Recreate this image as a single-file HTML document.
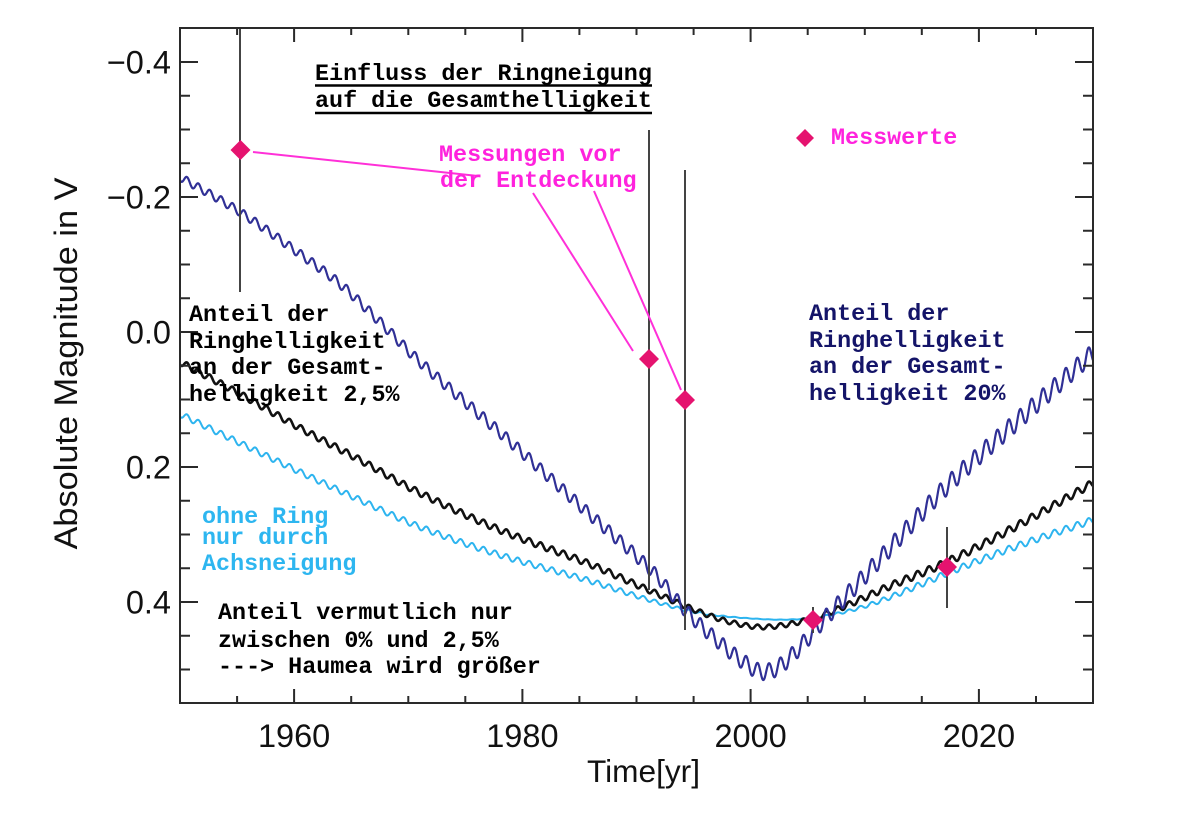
<!DOCTYPE html>
<html>
<head>
<meta charset="utf-8">
<style>
html,body{margin:0;padding:0;background:#fff;}
svg{display:block;}
.mono{font-family:"Liberation Mono","DejaVu Sans Mono",monospace;font-weight:bold;font-size:23.4px;}
.sans{font-family:"Liberation Sans",Arial,sans-serif;}
</style>
</head>
<body>
<svg width="1200" height="818" viewBox="0 0 1200 818" xmlns="http://www.w3.org/2000/svg">
<defs>
<clipPath id="plot"><rect x="180" y="28" width="913" height="675"/></clipPath>
</defs>
<rect x="0" y="0" width="1200" height="818" fill="#fff"/>

<!-- curves -->
<g clip-path="url(#plot)" fill="none" stroke-linejoin="round" stroke-linecap="round">
<path id="cyan" stroke="#2db4ef" stroke-width="2" d="M180 414L240 443L300 472L360 500L420 527L500 555L587 580L653 601L700 613L760 619L800 619L840 613L880 601L960 568L1020 545L1093 520"/>
<path id="black" stroke="#111" stroke-width="2.6" d="M180 362L240 394L300 428L360 460L420 493L500 530L587 563L653 592L700 612L730 622L760 627L790 624L820 616L850 604L890 586L947 562L1013 528L1093 483"/>
<path id="blue" stroke="#303096" stroke-width="2.2" d="M180 177L240 212L300 254L340 284L380 322L420 362L505 437L587 512L653 572L687 612L720 643L745 663L762 672L780 666L800 647L820 624L850 592L880 559L947 486L1013 425L1093 353"/>
</g>

<!-- error bars -->
<g stroke="#444" stroke-width="2">
<line x1="240" y1="28" x2="240" y2="292"/>
<line x1="649" y1="130" x2="649" y2="590"/>
<line x1="685" y1="170" x2="685" y2="630"/>
<line x1="813" y1="607" x2="813" y2="633"/>
<line x1="947" y1="527" x2="947" y2="608"/>
</g>

<!-- magenta pointer lines -->
<g stroke="#ff30d8" stroke-width="2">
<line x1="253" y1="152" x2="478" y2="176"/>
<line x1="533" y1="193" x2="633" y2="351"/>
<line x1="594" y1="191" x2="681" y2="390"/>
</g>

<!-- diamonds -->
<g fill="#e5136f">
<polygon points="240.5,140 250.5,150 240.5,160 230.5,150"/>
<polygon points="649,349 659,359 649,369 639,359"/>
<polygon points="685,390 695,400 685,410 675,400"/>
<polygon points="813,610 823,620 813,630 803,620"/>
<polygon points="947,557 957,567 947,577 937,567"/>
<polygon points="805,129 814,138 805,147 796,138"/>
</g>

<!-- frame and ticks -->
<g fill="none" stroke="#2a2a2a" stroke-width="2">
<rect x="180" y="28" width="913" height="675"/>
<path d="M294.1 703v-14M522.4 703v-14M750.6 703v-14M978.9 703v-14
M237.1 703v-7M351.2 703v-7M408.3 703v-7M465.3 703v-7M579.4 703v-7M636.5 703v-7M693.6 703v-7M807.7 703v-7M864.8 703v-7M921.8 703v-7M1036 703v-7
M294.1 28v14M522.4 28v14M750.6 28v14M978.9 28v14
M237.1 28v7M351.2 28v7M408.3 28v7M465.3 28v7M579.4 28v7M636.5 28v7M693.6 28v7M807.7 28v7M864.8 28v7M921.8 28v7M1036 28v7
M180 62h18M180 197h18M180 332h18M180 467h18M180 602h18
M180 95.75h10M180 129.5h10M180 163.25h10M180 230.75h10M180 264.5h10M180 298.25h10M180 365.75h10M180 399.5h10M180 433.25h10M180 500.75h10M180 534.5h10M180 568.25h10M180 635.75h10M180 669.5h10
M1093 62h-18M1093 197h-18M1093 332h-18M1093 467h-18M1093 602h-18
M1093 95.75h-10M1093 129.5h-10M1093 163.25h-10M1093 230.75h-10M1093 264.5h-10M1093 298.25h-10M1093 365.75h-10M1093 399.5h-10M1093 433.25h-10M1093 500.75h-10M1093 534.5h-10M1093 568.25h-10M1093 635.75h-10M1093 669.5h-10"/>
</g>

<!-- tick labels -->
<g class="sans" font-size="32.5" fill="#111" text-anchor="end">
<text x="171" y="73.6">−0.4</text>
<text x="171" y="208.6">−0.2</text>
<text x="171" y="343.6">0.0</text>
<text x="171" y="478.6">0.2</text>
<text x="171" y="613.6">0.4</text>
</g>
<g class="sans" font-size="32.5" fill="#111" text-anchor="middle">
<text x="294.1" y="747">1960</text>
<text x="522.4" y="747">1980</text>
<text x="750.6" y="747">2000</text>
<text x="978.9" y="747">2020</text>
</g>
<text class="sans" x="587" y="782" font-size="31.5" fill="#111" textLength="113" lengthAdjust="spacingAndGlyphs">Time[yr]</text>
<text class="sans" transform="translate(77,363.5) rotate(-90)" x="0" y="0" font-size="32.5" fill="#111" text-anchor="middle" textLength="372" lengthAdjust="spacingAndGlyphs">Absolute Magnitude in V</text>

<!-- title -->
<g class="mono" fill="#000">
<text x="315" y="80">Einfluss der Ringneigung</text>
<text x="315" y="107">auf die Gesamthelligkeit</text>
</g>
<g stroke="#000" stroke-width="2.5">
<line x1="315" y1="85.5" x2="652" y2="85.5"/>
<line x1="315" y1="113" x2="652" y2="113"/>
</g>

<!-- magenta annotations -->
<g class="mono" fill="#ff22dd">
<text x="439" y="161">Messungen vor</text>
<text x="440" y="187">der Entdeckung</text>
<text x="831" y="144">Messwerte</text>
</g>

<!-- blue annotation -->
<g class="mono" fill="#141468">
<text x="809" y="320">Anteil der</text>
<text x="809" y="347">Ringhelligkeit</text>
<text x="809" y="373">an der Gesamt-</text>
<text x="809" y="400">helligkeit 20%</text>
</g>

<!-- black left annotation -->
<g class="mono" fill="#000">
<text x="189" y="321">Anteil der</text>
<text x="189" y="348">Ringhelligkeit</text>
<text x="189" y="374">an der Gesamt-</text>
<text x="189" y="401">helligkeit 2,5%</text>
</g>

<!-- cyan annotation -->
<g class="mono" fill="#2db6f0">
<text x="202" y="523">ohne Ring</text>
<text x="202" y="544">nur durch</text>
<text x="202" y="570">Achsneigung</text>
</g>

<!-- bottom annotation -->
<g class="mono" fill="#000">
<text x="218" y="619">Anteil vermutlich nur</text>
<text x="218" y="647">zwischen 0% und 2,5%</text>
<text x="218" y="673">---&gt; Haumea wird größer</text>
</g>
</svg>

<script>
(function(){
  var PX = 11.4125;
  function H(p, x){
    var n = p.length;
    if (x <= p[0][0]) return p[0][1];
    if (x >= p[n-1][0]) return p[n-1][1];
    var i = 0;
    while (x > p[i+1][0]) i++;
    var p0 = p[Math.max(i-1,0)], p1 = p[i], p2 = p[i+1], p3 = p[Math.min(i+2,n-1)];
    var h = p2[0]-p1[0];
    var m1 = (p2[1]-p0[1])/(p2[0]-p0[0]);
    var m2 = (p3[1]-p1[1])/(p3[0]-p1[0]);
    var t = (x-p1[0])/h, t2 = t*t, t3 = t2*t;
    return (2*t3-3*t2+1)*p1[1] + (t3-2*t2+t)*h*m1 + (-2*t3+3*t2)*p2[1] + (t3-t2)*h*m2;
  }
  function wave(id, base, amp){
    var d = '';
    for (var k = 0; ; k++){
      var x = 180 + k*0.5;
      if (x > 1093.5) break;
      var t = (x-180)/PX;
      var y = H(base, x) + H(amp, x)*Math.cos(2*Math.PI*(t-5.11));
      d += (k === 0 ? 'M' : 'L') + x.toFixed(1) + ' ' + y.toFixed(2);
    }
    var el = document.getElementById(id);
    if (el) el.setAttribute('d', d);
  }
  var blue = [[180,177],[240,212],[300,254],[340,284],[380,322],[420,362],[505,437],[587,512],[653,572],[687,612],[720,643],[745,663],[762,672],[780,666],[800,647],[820,624],[850,592],[880,559],[947,486],[1013,425],[1093,353]];
  var black = [[180,362],[240,394],[300,428],[360,460],[420,493],[500,530],[587,563],[653,592],[700,612],[730,622],[760,627],[790,624],[820,616],[850,604],[890,586],[947,562],[1013,528],[1093,483]];
  var cyan = [[180,414],[240,443],[300,472],[360,500],[420,527],[500,555],[587,580],[653,601],[700,613],[760,619],[800,619],[840,613],[880,601],[960,568],[1020,545],[1093,520]];
  var blueAmp = [[180,4],[300,4.5],[450,5.5],[650,6.5],[760,8],[880,9],[1000,9.5],[1093,9.5]];
  var blackAmp = [[180,3.2],[600,3.2],[700,2.5],[760,2.3],[820,2.6],[900,3.6],[1093,3.8]];
  var cyanAmp = [[180,3],[600,2.7],[680,1.4],[740,0.3],[800,0.3],[860,1.7],[920,3],[1093,3.4]];
  wave('cyan', cyan, cyanAmp);
  wave('black', black, blackAmp);
  wave('blue', blue, blueAmp);
})();
</script>
</body>
</html>
